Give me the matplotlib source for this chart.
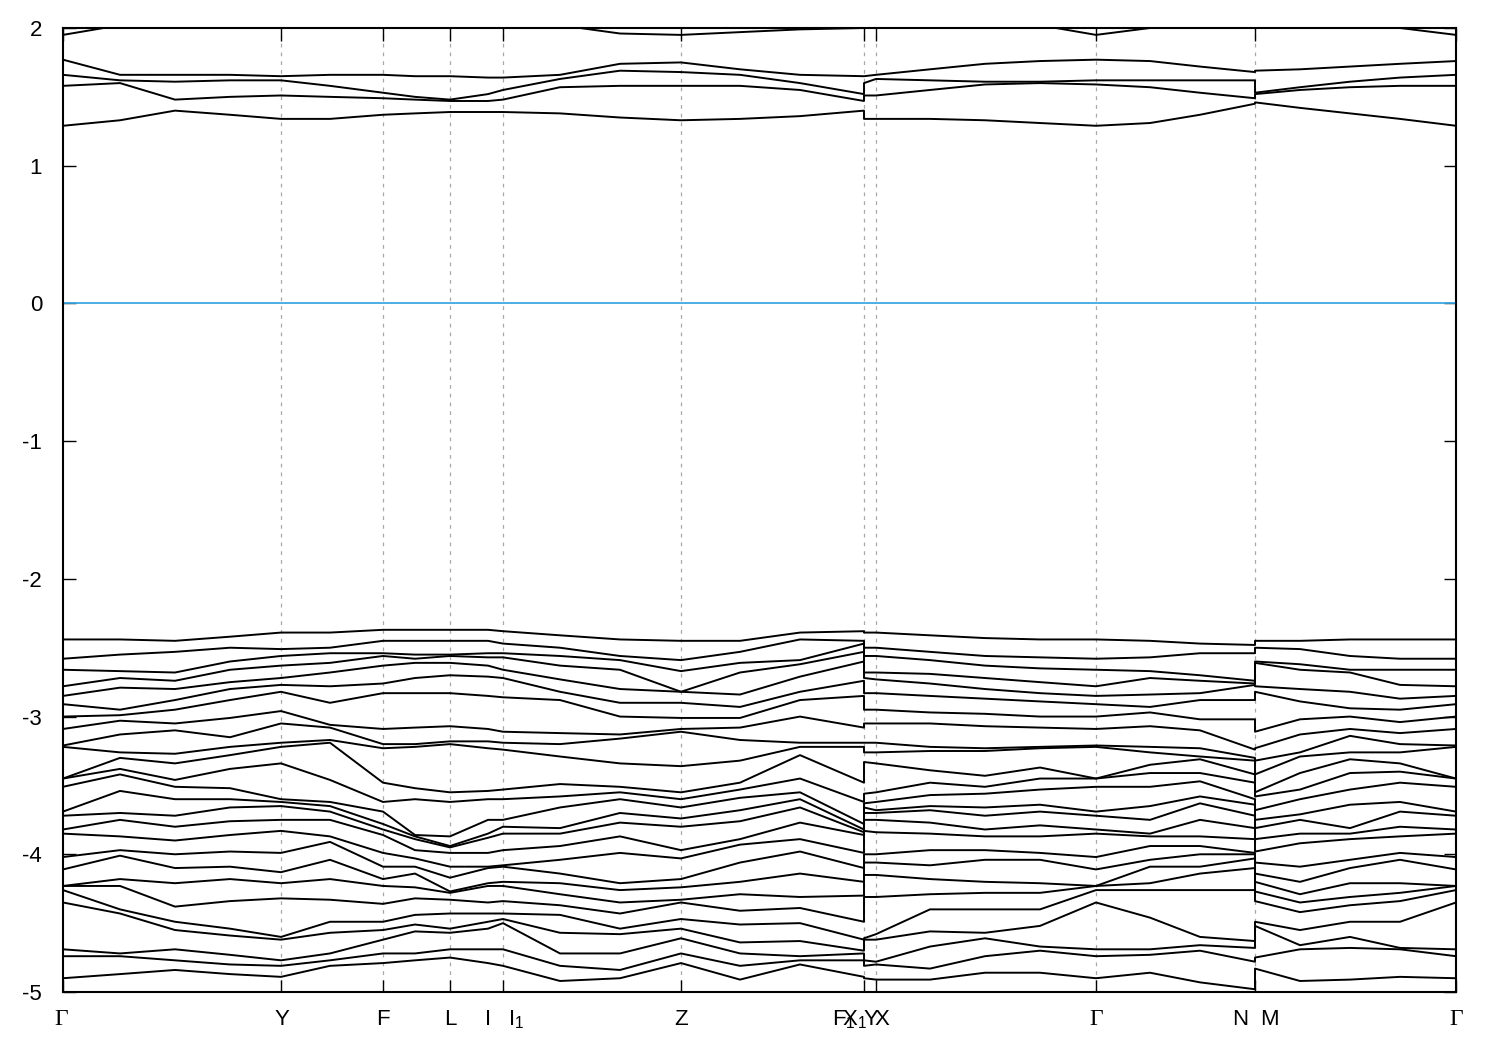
import numpy as np
import matplotlib
matplotlib.use("Agg")
import matplotlib.pyplot as plt
from matplotlib.transforms import blended_transform_factory

plt.rcParams["font.family"] = ["Liberation Sans", "DejaVu Sans"]
plt.rcParams["axes.unicode_minus"] = False
plt.rcParams["mathtext.fontset"] = "custom"
plt.rcParams["mathtext.rm"] = "Liberation Sans"
plt.rcParams["mathtext.it"] = "Liberation Sans"

# ---- k-path sample positions (arbitrary units); duplicated values = path breaks
k_path = [0.000, 0.057, 0.112, 0.167, 0.218, 0.267, 0.320, 0.352, 0.387, 0.425,
          0.440, 0.497, 0.557, 0.618, 0.677, 0.737, 0.801, 0.801, 0.813, 0.867,
          0.922, 0.977, 1.033, 1.087, 1.137, 1.192, 1.192, 1.237, 1.287, 1.337, 1.393]

# high-symmetry ticks
tick_k = [0.000, 0.218, 0.320, 0.387, 0.440, 0.618, 0.801, 0.813, 1.033, 1.192, 1.393]
# labels and their k positions
label_text = ["Γ", "Y", "F", "L", "I", "I$_1$", "Z", "F$_1$", "X$_1$", "Y", "X", "Γ", "N", "M", "Γ"]
label_k = [-0.002, 0.219, 0.320, 0.387, 0.425, 0.453, 0.618, 0.781, 0.791, 0.808, 0.819,
           1.033, 1.177, 1.206, 1.393]

fermi_level = 0.0

# ---- valence band energies (eV) at each k sample
v00 = [-2.44, -2.58, -2.66, -2.78, -2.85, -2.91, -3.00, -3.09, -3.21, -3.22, -3.45, -3.45, -3.51,
       -3.69, -3.72, -3.82, -3.85, -4.02, -4.11, -4.23, -4.23, -4.26, -4.35, -4.69, -4.74, -4.90]
v01 = [-2.44, -2.55, -2.67, -2.72, -2.79, -2.95, -2.99, -3.03, -3.13, -3.26, -3.30, -3.38, -3.42,
       -3.54, -3.70, -3.75, -3.87, -3.97, -4.01, -4.18, -4.23, -4.40, -4.43, -4.72, -4.74, -4.87]
v02 = [-2.45, -2.53, -2.68, -2.74, -2.80, -2.88, -2.95, -3.05, -3.10, -3.27, -3.34, -3.46, -3.51,
       -3.60, -3.72, -3.80, -3.90, -4.00, -4.10, -4.21, -4.38, -4.49, -4.55, -4.69, -4.77, -4.84]
v03 = [-2.42, -2.50, -2.60, -2.66, -2.75, -2.80, -2.88, -3.01, -3.15, -3.22, -3.28, -3.38, -3.52,
       -3.60, -3.66, -3.76, -3.86, -3.98, -4.09, -4.18, -4.34, -4.54, -4.59, -4.73, -4.80, -4.87]
v04 = [-2.39, -2.51, -2.56, -2.63, -2.72, -2.77, -2.82, -2.96, -3.05, -3.19, -3.22, -3.34, -3.60,
       -3.62, -3.65, -3.75, -3.83, -3.99, -4.13, -4.21, -4.32, -4.60, -4.62, -4.77, -4.81, -4.89]
v05 = [-2.39, -2.50, -2.54, -2.61, -2.68, -2.78, -2.90, -3.06, -3.08, -3.17, -3.19, -3.46, -3.62,
       -3.65, -3.69, -3.75, -3.87, -3.91, -4.04, -4.18, -4.33, -4.49, -4.57, -4.72, -4.77, -4.81]
v06 = [-2.37, -2.45, -2.54, -2.56, -2.63, -2.76, -2.83, -3.09, -3.20, -3.23, -3.48, -3.62, -3.69,
       -3.78, -3.82, -3.86, -3.99, -4.09, -4.18, -4.23, -4.36, -4.49, -4.55, -4.62, -4.72, -4.79]
v07 = [-2.37, -2.45, -2.55, -2.58, -2.61, -2.72, -2.83, -3.08, -3.20, -3.22, -3.52, -3.60, -3.86,
       -3.87, -3.89, -3.97, -4.03, -4.09, -4.14, -4.24, -4.32, -4.44, -4.51, -4.56, -4.72, -4.77]
v08 = [-2.37, -2.45, -2.55, -2.56, -2.61, -2.70, -2.83, -3.07, -3.18, -3.20, -3.55, -3.62, -3.87,
       -3.94, -3.95, -3.99, -4.09, -4.17, -4.27, -4.28, -4.33, -4.43, -4.54, -4.57, -4.69, -4.75]
v09 = [-2.37, -2.45, -2.54, -2.57, -2.63, -2.71, -2.85, -3.09, -3.18, -3.23, -3.54, -3.60, -3.75,
       -3.85, -3.88, -3.99, -4.09, -4.10, -4.21, -4.23, -4.35, -4.43, -4.49, -4.54, -4.69, -4.79]
v10 = [-2.38, -2.47, -2.54, -2.57, -2.66, -2.72, -2.86, -3.11, -3.19, -3.24, -3.53, -3.60, -3.75,
       -3.80, -3.85, -3.97, -4.08, -4.09, -4.20, -4.23, -4.34, -4.43, -4.47, -4.50, -4.69, -4.81]
v11 = [-2.41, -2.50, -2.56, -2.63, -2.73, -2.82, -2.88, -3.12, -3.20, -3.29, -3.49, -3.58, -3.66,
       -3.81, -3.85, -3.94, -4.04, -4.14, -4.21, -4.29, -4.37, -4.44, -4.57, -4.72, -4.81, -4.92]
v12 = [-2.44, -2.56, -2.59, -2.66, -2.80, -2.90, -3.00, -3.13, -3.16, -3.34, -3.51, -3.55, -3.60,
       -3.70, -3.77, -3.87, -3.99, -4.21, -4.26, -4.35, -4.43, -4.54, -4.58, -4.72, -4.84, -4.90]
v13 = [-2.45, -2.59, -2.67, -2.82, -2.82, -2.90, -3.01, -3.09, -3.11, -3.36, -3.55, -3.60, -3.66,
       -3.74, -3.80, -3.97, -4.03, -4.18, -4.24, -4.33, -4.35, -4.47, -4.54, -4.61, -4.72, -4.79]
v14 = [-2.45, -2.53, -2.61, -2.68, -2.84, -2.93, -3.01, -3.08, -3.17, -3.32, -3.48, -3.53, -3.59,
       -3.68, -3.76, -3.89, -3.93, -4.06, -4.20, -4.29, -4.41, -4.51, -4.64, -4.72, -4.81, -4.91]
v15 = [-2.39, -2.44, -2.59, -2.62, -2.71, -2.82, -2.88, -3.00, -3.19, -3.22, -3.28, -3.45, -3.55,
       -3.60, -3.66, -3.77, -3.89, -3.98, -4.14, -4.31, -4.39, -4.50, -4.63, -4.74, -4.77, -4.80]
v16 = [-2.38, -2.45, -2.47, -2.53, -2.60, -2.74, -2.85, -3.08, -3.19, -3.22, -3.48, -3.62, -3.78,
       -3.82, -3.84, -3.86, -3.99, -4.10, -4.20, -4.30, -4.49, -4.62, -4.70, -4.72, -4.77, -4.89]
v17 = [-2.39, -2.50, -2.56, -2.68, -2.72, -2.83, -2.95, -3.05, -3.19, -3.26, -3.33, -3.56, -3.63,
       -3.66, -3.70, -3.75, -3.83, -4.00, -4.06, -4.15, -4.31, -4.61, -4.62, -4.77, -4.81, -4.90]
v18 = [-2.39, -2.50, -2.56, -2.68, -2.73, -2.83, -2.95, -3.05, -3.19, -3.26, -3.34, -3.55, -3.62,
       -3.68, -3.70, -3.75, -3.84, -4.00, -4.06, -4.15, -4.31, -4.58, -4.62, -4.78, -4.80, -4.91]
v19 = [-2.41, -2.53, -2.59, -2.69, -2.76, -2.85, -2.97, -3.05, -3.22, -3.25, -3.39, -3.48, -3.57,
       -3.65, -3.68, -3.77, -3.85, -3.97, -4.08, -4.18, -4.29, -4.40, -4.56, -4.67, -4.83, -4.91]
v20 = [-2.43, -2.56, -2.63, -2.72, -2.80, -2.87, -2.98, -3.07, -3.23, -3.25, -3.43, -3.51, -3.56,
       -3.66, -3.72, -3.82, -3.87, -3.97, -4.04, -4.20, -4.28, -4.40, -4.57, -4.61, -4.74, -4.86]
v21 = [-2.44, -2.57, -2.65, -2.75, -2.83, -2.89, -3.00, -3.08, -3.22, -3.23, -3.37, -3.45, -3.53,
       -3.64, -3.69, -3.79, -3.87, -3.99, -4.04, -4.21, -4.28, -4.40, -4.52, -4.67, -4.70, -4.86]
v22 = [-2.44, -2.58, -2.66, -2.78, -2.85, -2.91, -3.00, -3.09, -3.21, -3.22, -3.45, -3.45, -3.51,
       -3.69, -3.72, -3.82, -3.85, -4.02, -4.11, -4.23, -4.23, -4.26, -4.35, -4.69, -4.74, -4.90]
v23 = [-2.45, -2.57, -2.67, -2.72, -2.84, -2.93, -2.97, -3.07, -3.22, -3.26, -3.35, -3.41, -3.51,
       -3.65, -3.75, -3.85, -3.87, -3.94, -4.04, -4.09, -4.21, -4.26, -4.46, -4.69, -4.73, -4.86]
v24 = [-2.47, -2.54, -2.70, -2.74, -2.83, -2.88, -3.02, -3.10, -3.23, -3.29, -3.31, -3.41, -3.47,
       -3.58, -3.63, -3.75, -3.87, -3.94, -4.00, -4.09, -4.14, -4.26, -4.60, -4.66, -4.70, -4.93]
v25 = [-2.48, -2.54, -2.74, -2.76, -2.77, -2.88, -3.02, -3.24, -3.30, -3.32, -3.42, -3.48, -3.60,
       -3.64, -3.72, -3.81, -3.89, -3.99, -4.00, -4.03, -4.10, -4.26, -4.63, -4.68, -4.78, -4.98]
v26 = [-2.45, -2.50, -2.60, -2.61, -2.78, -2.82, -3.11, -3.23, -3.32, -3.42, -3.55, -3.58, -3.68,
       -3.75, -3.81, -3.89, -3.98, -4.06, -4.14, -4.20, -4.27, -4.34, -4.49, -4.52, -4.75, -4.83]
v27 = [-2.45, -2.51, -2.62, -2.66, -2.80, -2.89, -3.02, -3.13, -3.26, -3.29, -3.41, -3.53, -3.60,
       -3.71, -3.75, -3.85, -3.92, -4.09, -4.20, -4.29, -4.35, -4.42, -4.55, -4.66, -4.69, -4.92]
v28 = [-2.44, -2.56, -2.66, -2.68, -2.82, -2.94, -3.00, -3.09, -3.14, -3.26, -3.31, -3.41, -3.53,
       -3.64, -3.81, -3.85, -3.89, -4.04, -4.10, -4.21, -4.31, -4.37, -4.49, -4.60, -4.68, -4.91]
v29 = [-2.44, -2.58, -2.66, -2.77, -2.87, -2.95, -3.04, -3.12, -3.20, -3.26, -3.34, -3.40, -3.48,
       -3.62, -3.69, -3.80, -3.87, -3.99, -4.04, -4.21, -4.28, -4.34, -4.49, -4.68, -4.69, -4.89]
v30 = [-2.44, -2.58, -2.66, -2.78, -2.85, -2.91, -3.00, -3.09, -3.21, -3.22, -3.45, -3.45, -3.51,
       -3.69, -3.72, -3.82, -3.85, -4.02, -4.11, -4.23, -4.23, -4.26, -4.35, -4.69, -4.74, -4.90]

# ---- conduction band energies (eV) at each k sample
c00 = [1.29, 1.58, 1.66, 1.77, 1.95]
c01 = [1.33, 1.60, 1.62, 1.66, 2.02]
c02 = [1.40, 1.48, 1.61, 1.66, 2.08]
c03 = [1.37, 1.50, 1.62, 1.66, 2.10]
c04 = [1.34, 1.51, 1.62, 1.65, 2.10]
c05 = [1.34, 1.50, 1.58, 1.66, 2.10]
c06 = [1.37, 1.49, 1.53, 1.66, 2.10]
c07 = [1.38, 1.48, 1.50, 1.65, 2.10]
c08 = [1.39, 1.47, 1.48, 1.65, 2.08]
c09 = [1.39, 1.47, 1.52, 1.64, 2.06]
c10 = [1.39, 1.48, 1.55, 1.64, 2.05]
c11 = [1.38, 1.57, 1.63, 1.66, 2.02]
c12 = [1.35, 1.58, 1.69, 1.74, 1.96]
c13 = [1.33, 1.58, 1.68, 1.75, 1.95]
c14 = [1.34, 1.58, 1.66, 1.70, 1.97]
c15 = [1.36, 1.55, 1.60, 1.66, 1.99]
c16 = [1.40, 1.47, 1.52, 1.65, 2.00]
c17 = [1.34, 1.51, 1.60, 1.65, 2.02]
c18 = [1.34, 1.51, 1.63, 1.66, 2.05]
c19 = [1.34, 1.55, 1.62, 1.70, 2.10]
c20 = [1.33, 1.59, 1.61, 1.74, 2.08]
c21 = [1.31, 1.60, 1.61, 1.76, 2.02]
c22 = [1.29, 1.59, 1.62, 1.77, 1.95]
c23 = [1.31, 1.57, 1.62, 1.76, 2.00]
c24 = [1.37, 1.53, 1.62, 1.72, 2.06]
c25 = [1.45, 1.49, 1.62, 1.68, 2.08]
c26 = [1.46, 1.52, 1.53, 1.69, 2.08]
c27 = [1.42, 1.55, 1.57, 1.70, 2.08]
c28 = [1.38, 1.57, 1.61, 1.72, 2.06]
c29 = [1.34, 1.58, 1.64, 1.74, 2.00]
c30 = [1.29, 1.58, 1.66, 1.76, 1.95]

valence_cols = [v00, v01, v02, v03, v04, v05, v06, v07, v08, v09, v10, v11, v12, v13, v14, v15,
                v16, v17, v18, v19, v20, v21, v22, v23, v24, v25, v26, v27, v28, v29, v30]
conduction_cols = [c00, c01, c02, c03, c04, c05, c06, c07, c08, c09, c10, c11, c12, c13, c14, c15,
                   c16, c17, c18, c19, c20, c21, c22, c23, c24, c25, c26, c27, c28, c29, c30]

V = np.sort(np.array(valence_cols), axis=1)
C = np.sort(np.array(conduction_cols), axis=1)

W, H = 1500, 1050
fig = plt.figure(figsize=(15, 10.5), dpi=100)
ax = fig.add_axes([63 / W, 1 - 992 / H, (1456 - 63) / W, (992 - 28) / H])

# dashed verticals at interior high-symmetry points
for kk in tick_k[1:-1]:
    ax.axvline(kk, color="#a8a8a8", lw=0.9, dashes=(3, 4), zorder=1)

ax.axhline(fermi_level, color="#3ea8e2", lw=1.3, zorder=2)

for i in range(V.shape[1]):
    ax.plot(k_path, V[:, i], color="black", lw=1.4, zorder=3)
for i in range(C.shape[1]):
    ax.plot(k_path, C[:, i], color="black", lw=1.4, zorder=3)

ax.set_xlim(tick_k[0], tick_k[-1])
ax.set_ylim(-5, 2)
ax.set_xticks(tick_k)
ax.set_xticklabels([])
ax.set_yticks(range(-5, 3))
ax.set_yticklabels([str(v) for v in range(-5, 3)], fontsize=16)
ax.tick_params(axis="both", direction="in", length=9, width=1.0, top=True, right=True)
ax.tick_params(axis="y", pad=15)
for s in ax.spines.values():
    s.set_linewidth(1.5)

trans = blended_transform_factory(ax.transData, ax.transAxes)
for txt, kk in zip(label_text, label_k):
    if txt == "Γ":
        ax.text(kk, -0.029, txt, transform=trans, ha="center", va="center",
                fontsize=17, family=["Liberation Serif", "DejaVu Serif"])
    else:
        ax.text(kk, -0.029, txt, transform=trans, ha="center", va="center", fontsize=16)

fig.savefig("out.png", dpi=100)
